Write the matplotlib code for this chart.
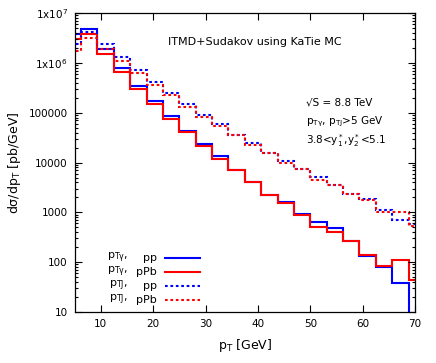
import numpy as np
import matplotlib
matplotlib.use("Agg")
import matplotlib.pyplot as plt
from matplotlib.ticker import FixedLocator, LogLocator, NullFormatter

# bin edges: 3.125 GeV wide bins
edges = np.arange(1, 24) * 3.125

# d sigma / d pT [pb/GeV]
pt_gamma_pp = [3.79e6, 4.78e6, 1.87e6, 7.80e5, 3.49e5, 1.72e5, 8.43e4, 4.38e4,
               2.40e4, 1.34e4, 7.14e3, 4.10e3, 2.25e3, 1.65e3, 937, 640,
               480, 270, 131, 78.7, 38.3, 1.0]
pt_gamma_ppb = [2.97e6, 3.79e6, 1.49e6, 6.48e5, 3.00e5, 1.47e5, 7.51e4, 4.07e4,
                2.16e4, 1.20e4, 7.14e3, 4.05e3, 2.25e3, 1.51e3, 895, 498,
                408, 270, 137, 82.4, 109, 44.6]
pt_jet_pp = [2.36e6, 4.22e6, 2.39e6, 1.33e6, 7.21e5, 4.20e5, 2.46e5, 1.48e5,
             9.03e4, 5.88e4, 3.59e4, 2.43e4, 1.54e4, 1.08e4, 7.48e3, 5.24e3,
             3.57e3, 2.36e3, 1.87e3, 1.13e3, 689, 591]
pt_jet_ppb = [1.76e6, 3.20e6, 1.90e6, 1.09e6, 6.37e5, 3.61e5, 2.22e5, 1.33e5,
              8.35e4, 5.44e4, 3.54e4, 2.26e4, 1.54e4, 1.00e4, 7.48e3, 4.50e3,
              3.52e3, 2.36e3, 1.73e3, 1.01e3, 1.04e3, 521]

series = [
    (pt_gamma_pp, "blue", "-", r"p$_{\mathrm{T}\gamma}$,", "pp"),
    (pt_gamma_ppb, "red", "-", r"p$_{\mathrm{T}\gamma}$,", "pPb"),
    (pt_jet_pp, "blue", (0, (1.3, 1.3)), r"p$_{\mathrm{TJ}}$,", "pp"),
    (pt_jet_ppb, "red", (0, (1.3, 1.3)), r"p$_{\mathrm{TJ}}$,", "pPb"),
]

xticks = [10, 20, 30, 40, 50, 60, 70]
yticks = [10, 100, 1000, 10000, 100000, 1e6, 1e7]
ytick_labels = ["10", "100", "1000", "10000", "100000",
                r"1x10$^{6}$", r"1x10$^{7}$"]

plt.rcParams["font.family"] = "DejaVu Sans"
plt.rcParams["font.size"] = 7.5
plt.rcParams["mathtext.default"] = "regular"

fig = plt.figure(figsize=(4.36, 3.63), dpi=100)
ax = fig.add_axes([0.171, 0.1405, 0.781, 0.8235])

for vals, col, ls, lab1, lab2 in series:
    ax.stairs(vals, edges, baseline=None, color=col, linestyle=ls, lw=1.5)

ax.set_xlim(5, 70)
ax.set_yscale("log")
ax.set_ylim(10, 1e7)
ax.xaxis.set_major_locator(FixedLocator(xticks))
ax.yaxis.set_major_locator(FixedLocator(yticks))
ax.set_yticklabels(ytick_labels)
ax.yaxis.set_minor_locator(LogLocator(base=10, subs=np.arange(2, 10)))
ax.yaxis.set_minor_formatter(NullFormatter())
ax.tick_params(which="both", direction="in", top=True, right=True, width=0.8)
ax.tick_params(which="major", length=5, pad=5)
ax.tick_params(which="minor", length=2.5)
for s in ax.spines.values():
    s.set_linewidth(0.9)

ax.set_xlabel(r"p$_{\mathrm{T}}$ [GeV]", fontsize=9, labelpad=6)
ax.set_ylabel(r"d$\sigma$/dp$_{\mathrm{T}}$ [pb/GeV]", fontsize=9)

ax.text(0.275, 0.903, "ITMD+Sudakov using KaTie MC", transform=ax.transAxes,
        va="center", ha="left", fontsize=8)
ax.text(0.68, 0.70, "\u221aS = 8.8 TeV", transform=ax.transAxes,
        va="center", ha="left", fontsize=7.5)
ax.text(0.68, 0.635, r"p$_{\mathrm{T}\gamma}$, p$_{\mathrm{TJ}}$>5 GeV",
        transform=ax.transAxes, va="center", ha="left", fontsize=7.5)
ax.text(0.68, 0.575, r"3.8<y$_1^*$,y$_2^*$<5.1",
        transform=ax.transAxes, va="center", ha="left", fontsize=7.5)

# gnuplot-like key, lower left
rows = [0.181, 0.133, 0.087, 0.040]
for (vals, col, ls, lab1, lab2), yr in zip(series, rows):
    ax.text(0.158, yr, lab1, transform=ax.transAxes, ha="right", va="center", fontsize=8)
    ax.text(0.241, yr, lab2, transform=ax.transAxes, ha="right", va="center", fontsize=8)
    ax.plot([0.266, 0.369], [yr, yr], transform=ax.transAxes, color=col,
            linestyle=ls, lw=1.5)

fig.savefig("out.png", dpi=100)
